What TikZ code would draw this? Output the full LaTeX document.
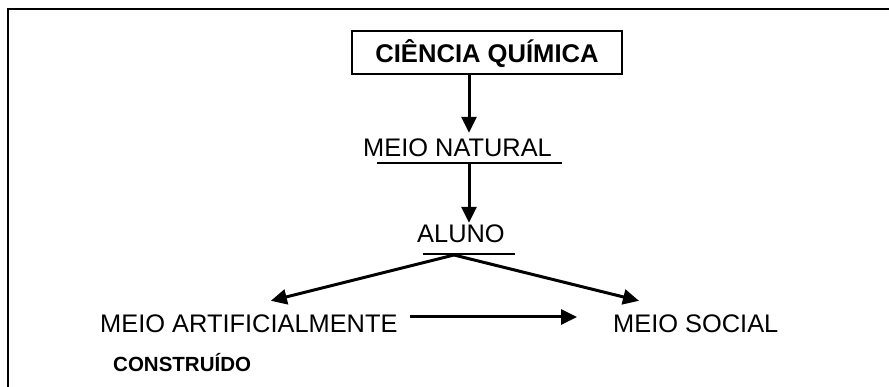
\documentclass[tikz,border=0pt]{standalone}
\usepackage{fontspec}
\setmainfont{Liberation Sans}
\usetikzlibrary{arrows.meta}

\begin{document}
\begin{tikzpicture}[x=1pt, y=-1pt, >={Triangle[length=16pt,width=15pt]},
    every node/.style={inner sep=0pt, text height=18pt, text depth=0pt},
    txt/.style={font=\fontsize{25.4}{30}\selectfont, anchor=base west},
    arr/.style={->, line width=3pt},
    uline/.style={line width=1.2pt}]
      \useasboundingbox (0,0) rectangle (889,387);
      % Frame (top and left only)
      \draw[line width=1.6pt] (8,387) -- (8,9) -- (889,9);

      % Title box
      \node[draw, line width=1.5pt, minimum width=270pt, minimum height=43pt,
            text height=21pt, font=\fontsize{25.6}{30}\selectfont\bfseries]
            (CQ) at (487,52.5) {CIÊNCIA QUÍMICA};

      % Text nodes
      \node[txt] (NAT) at (363,157) {MEIO NATURAL};
      \node[txt] (ALU) at (417,243) {ALUNO};
      \node[txt] (ART) at (100,333) {MEIO ARTIFICIALMENTE};
      \node[txt] (SOC) at (613,333) {MEIO SOCIAL};
      \node[anchor=base west, font=\fontsize{20.5}{24}\selectfont\bfseries]
            (CON) at (113,371) {CONSTRUÍDO};

      % Underlines
      \coordinate (NATl) at (377,163);
      \coordinate (NATr) at (562,163);
      \coordinate (NATm) at (469,163);
      \coordinate (ALUl) at (423,254);
      \coordinate (ALUr) at (515,254);
      \coordinate (ALUm) at (454,255);
      \draw[uline] (NATl) -- (NATr);
      \draw[uline] (ALUl) -- (ALUr);

      % Arrows
      \draw[arr, shorten >=6pt] (CQ.south -| NATm) -- (NATm |- NAT.north);
      \draw[arr, shorten >=2pt] (NATm) -- (NATm |- ALU.north);
      \draw[arr] (ALUm) -- ([shift={(22,-14)}]ART.north);
      \draw[arr] (ALUm) -- ([shift={(26,-14)}]SOC.north west);
      \draw[arr] ([shift={(12,-7)}]ART.east) -- ([shift={(-36,-7)}]SOC.west);
    \end{tikzpicture}
\end{document}
